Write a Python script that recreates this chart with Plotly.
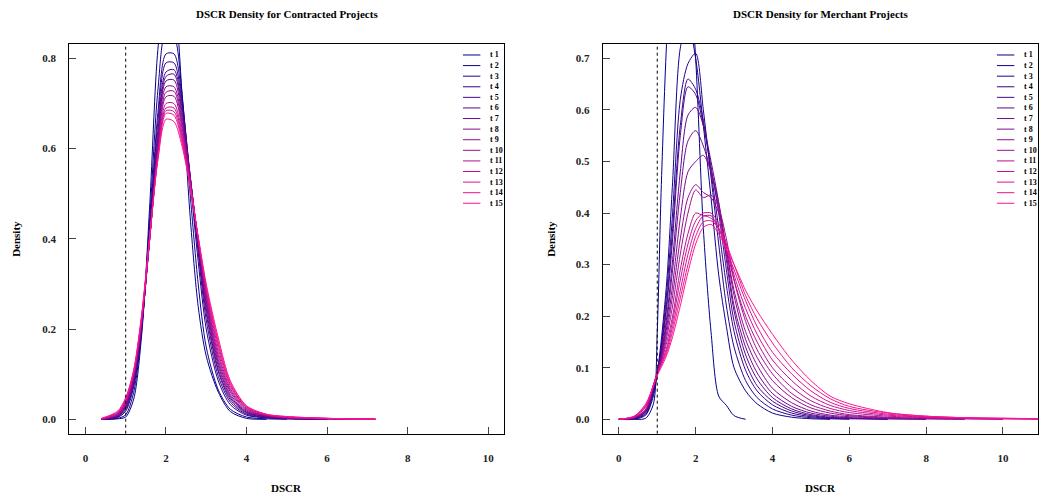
import plotly.graph_objects as go

# ---------------- data ----------------
SERIES = ["t 1", "t 2", "t 3", "t 4", "t 5", "t 6", "t 7", "t 8",
          "t 9", "t 10", "t 11", "t 12", "t 13", "t 14", "t 15"]

# Contracted projects: DSCR grid and density values per period
X_CONTRACTED = [0.4, 0.8, 1.0, 1.2, 1.4, 1.6, 1.8, 2.0, 2.2, 2.4, 2.6, 2.8,
                3.0, 3.3, 3.6, 4.0, 4.5, 5.0, 6.0, 7.2]

c_t1 = [0.0, 0.001, 0.005, 0.045, 0.19, 0.48, 0.82, 0.95, 0.92, 0.72, 0.45, 0.25, 0.14, 0.06, 0.017, 0.002, 0.0, None, None, None]
c_t2 = [0.0, 0.002, 0.01, 0.06, 0.20, 0.45, 0.73, 0.86, 0.85, 0.72, 0.50, 0.30, 0.16, 0.065, 0.022, 0.005, 0.001, 0.0, None, None]
c_t3 = [0.0, 0.004, 0.018, 0.072, 0.205, 0.43, 0.68, 0.81, 0.81, 0.71, 0.53, 0.35, 0.20, 0.085, 0.032, 0.009, 0.003, 0.001, 0.0, None]
c_t4 = [0.0, 0.005, 0.022, 0.078, 0.207, 0.42, 0.66, 0.79, 0.79, 0.70, 0.54, 0.37, 0.22, 0.095, 0.038, 0.011, 0.004, 0.001, 0.0, None]
c_t5 = [0.0, 0.006, 0.025, 0.083, 0.209, 0.415, 0.64, 0.77, 0.775, 0.69, 0.54, 0.38, 0.235, 0.105, 0.043, 0.013, 0.005, 0.002, 0.0, None]
c_t6 = [0.0, 0.007, 0.028, 0.087, 0.211, 0.41, 0.625, 0.76, 0.765, 0.68, 0.54, 0.385, 0.245, 0.11, 0.047, 0.015, 0.006, 0.002, 0.0, None]
c_t7 = [0.0, 0.008, 0.03, 0.09, 0.213, 0.405, 0.615, 0.75, 0.752, 0.67, 0.538, 0.39, 0.255, 0.118, 0.051, 0.016, 0.006, 0.002, 0.001, 0.0]
c_t8 = [0.0, 0.009, 0.032, 0.092, 0.215, 0.402, 0.607, 0.737, 0.737, 0.66, 0.536, 0.393, 0.262, 0.125, 0.055, 0.018, 0.007, 0.003, 0.001, 0.0]
c_t9 = [0.0, 0.01, 0.034, 0.095, 0.218, 0.403, 0.60, 0.725, 0.727, 0.652, 0.532, 0.396, 0.268, 0.132, 0.06, 0.02, 0.008, 0.003, 0.001, 0.0]
c_t10 = [0.001, 0.011, 0.036, 0.097, 0.221, 0.404, 0.595, 0.715, 0.716, 0.645, 0.528, 0.398, 0.274, 0.14, 0.064, 0.022, 0.008, 0.004, 0.001, 0.0]
c_t11 = [0.001, 0.012, 0.039, 0.10, 0.224, 0.405, 0.59, 0.70, 0.70, 0.635, 0.524, 0.40, 0.28, 0.148, 0.068, 0.024, 0.009, 0.004, 0.001, 0.0]
c_t12 = [0.001, 0.013, 0.041, 0.103, 0.227, 0.406, 0.585, 0.69, 0.69, 0.627, 0.52, 0.401, 0.285, 0.157, 0.073, 0.026, 0.01, 0.005, 0.002, 0.0]
c_t13 = [0.001, 0.015, 0.043, 0.105, 0.23, 0.407, 0.582, 0.684, 0.682, 0.62, 0.518, 0.402, 0.29, 0.165, 0.077, 0.027, 0.01, 0.005, 0.002, 0.0]
c_t14 = [0.002, 0.016, 0.046, 0.108, 0.232, 0.408, 0.578, 0.678, 0.674, 0.613, 0.516, 0.404, 0.295, 0.172, 0.081, 0.029, 0.011, 0.006, 0.002, 0.0]
c_t15 = [0.002, 0.018, 0.048, 0.11, 0.235, 0.41, 0.575, 0.665, 0.66, 0.605, 0.515, 0.405, 0.30, 0.18, 0.085, 0.03, 0.011, 0.006, 0.002, 0.0]

# Merchant projects
X_MERCHANT = [0.0, 0.4, 0.7, 0.9, 1.0, 1.1, 1.25, 1.4, 1.6, 1.8, 2.0, 2.2, 2.4, 2.6,
              2.8, 3.0, 3.3, 3.6, 4.0, 4.5, 5.0, 5.5, 6.0, 7.0, 8.0, 9.0, 10.0, 11.0]

m_t1 = [None, 0.0, 0.002, 0.03, 0.17, 0.44, 0.74, 0.90, 0.96, 0.90, 0.70, 0.37, 0.17, 0.045, 0.027, 0.007, 0.0,
        None, None, None, None, None, None, None, None, None, None, None]
m_t2 = [0.0, 0.0, 0.008, 0.045, 0.09, 0.15, 0.27, 0.46, 0.72, 0.77, 0.70, 0.57, 0.43, 0.28, 0.18, 0.10, 0.055,
        0.03, 0.012, 0.004, 0.001, 0.0, None, None, None, None, None, None]
m_t3 = [0.0, 0.001, 0.01, 0.05, 0.09, 0.14, 0.25, 0.40, 0.62, 0.69, 0.71, 0.60, 0.47, 0.34, 0.22, 0.14, 0.075,
        0.042, 0.02, 0.008, 0.003, 0.001, 0.0, None, None, None, None, None]
m_t4 = [0.0, 0.001, 0.012, 0.055, 0.09, 0.135, 0.23, 0.37, 0.57, 0.66, 0.64, 0.58, 0.48, 0.37, 0.26, 0.17, 0.095,
        0.055, 0.028, 0.012, 0.005, 0.002, 0.001, 0.0, None, None, None, None]
m_t5 = [0.0, 0.002, 0.014, 0.058, 0.09, 0.13, 0.22, 0.35, 0.55, 0.645, 0.63, 0.57, 0.49, 0.40, 0.29, 0.19, 0.11,
        0.065, 0.035, 0.016, 0.007, 0.003, 0.002, 0.0, None, None, None, None]
m_t6 = [0.0, 0.002, 0.015, 0.06, 0.09, 0.125, 0.20, 0.31, 0.48, 0.59, 0.605, 0.57, 0.50, 0.42, 0.31, 0.21, 0.125,
        0.078, 0.042, 0.02, 0.009, 0.004, 0.002, 0.001, 0.0, None, None, None]
m_t7 = [0.0, 0.002, 0.016, 0.062, 0.09, 0.12, 0.19, 0.29, 0.44, 0.54, 0.56, 0.53, 0.48, 0.41, 0.32, 0.22, 0.14,
        0.09, 0.05, 0.025, 0.012, 0.006, 0.003, 0.001, 0.0, None, None, None]
m_t8 = [0.0, 0.003, 0.017, 0.063, 0.09, 0.118, 0.18, 0.26, 0.39, 0.48, 0.50, 0.512, 0.48, 0.42, 0.33, 0.24, 0.155,
        0.105, 0.06, 0.032, 0.016, 0.008, 0.005, 0.002, 0.001, 0.0, None, None]
m_t9 = [0.0, 0.003, 0.018, 0.065, 0.09, 0.115, 0.17, 0.24, 0.35, 0.43, 0.455, 0.44, 0.43, 0.40, 0.33, 0.25, 0.17,
        0.12, 0.075, 0.042, 0.022, 0.012, 0.007, 0.003, 0.001, 0.0, None, None]
m_t10 = [0.0, 0.003, 0.019, 0.066, 0.09, 0.112, 0.16, 0.22, 0.32, 0.40, 0.445, 0.43, 0.435, 0.41, 0.35, 0.27, 0.19,
         0.135, 0.088, 0.05, 0.028, 0.016, 0.009, 0.004, 0.002, 0.001, 0.0, None]
m_t11 = [0.0, 0.004, 0.02, 0.067, 0.09, 0.11, 0.15, 0.20, 0.29, 0.36, 0.40, 0.395, 0.395, 0.37, 0.33, 0.27, 0.20,
         0.15, 0.10, 0.062, 0.036, 0.021, 0.013, 0.006, 0.003, 0.001, 0.0, None]
m_t12 = [0.0, 0.005, 0.024, 0.066, 0.09, 0.108, 0.14, 0.19, 0.27, 0.34, 0.385, 0.40, 0.40, 0.38, 0.34, 0.28, 0.215,
         0.165, 0.115, 0.075, 0.045, 0.027, 0.017, 0.008, 0.004, 0.002, 0.001, 0.0]
m_t13 = [0.0, 0.005, 0.026, 0.066, 0.088, 0.106, 0.135, 0.18, 0.25, 0.32, 0.37, 0.394, 0.39, 0.37, 0.33, 0.29, 0.23,
         0.18, 0.13, 0.088, 0.055, 0.033, 0.021, 0.01, 0.005, 0.003, 0.001, 0.0]
m_t14 = [0.0, 0.006, 0.028, 0.065, 0.086, 0.104, 0.13, 0.17, 0.235, 0.30, 0.355, 0.383, 0.385, 0.37, 0.34, 0.30, 0.24,
         0.195, 0.148, 0.10, 0.065, 0.04, 0.025, 0.012, 0.006, 0.003, 0.002, 0.001]
m_t15 = [0.0, 0.006, 0.03, 0.065, 0.085, 0.10, 0.125, 0.16, 0.22, 0.285, 0.34, 0.372, 0.378, 0.36, 0.33, 0.30, 0.25,
         0.21, 0.165, 0.115, 0.075, 0.045, 0.03, 0.013, 0.006, 0.003, 0.002, 0.001]

CONTRACTED = [c_t1, c_t2, c_t3, c_t4, c_t5, c_t6, c_t7, c_t8, c_t9, c_t10, c_t11, c_t12, c_t13, c_t14, c_t15]
MERCHANT = [m_t1, m_t2, m_t3, m_t4, m_t5, m_t6, m_t7, m_t8, m_t9, m_t10, m_t11, m_t12, m_t13, m_t14, m_t15]

DSCR_THRESHOLD = 1.0

# ---------------- style ----------------
FONT = "Liberation Serif"
start_rgb = (0, 0, 139)      # darkblue
end_rgb = (255, 20, 147)     # deeppink
n = len(SERIES)
COLORS = []
for i in range(n):
    f = i / (n - 1)
    r, g, b = (round(s + (e - s) * f) for s, e in zip(start_rgb, end_rgb))
    COLORS.append(f"rgb({r},{g},{b})")

fig = go.Figure()

panels = [
    dict(x=X_CONTRACTED, curves=CONTRACTED, xa="x", ya="y", xd="x domain", yd="y domain",
         title="DSCR Density for Contracted Projects"),
    dict(x=X_MERCHANT, curves=MERCHANT, xa="x2", ya="y2", xd="x2 domain", yd="y2 domain",
         title="DSCR Density for Merchant Projects"),
]

shapes = []
annotations = []
for p in panels:
    for name, ys, col in zip(SERIES, p["curves"], COLORS):
        fig.add_trace(go.Scatter(
            x=p["x"], y=ys, mode="lines", name=name,
            line=dict(color=col, width=1, shape="spline", smoothing=0.8),
            xaxis=p["xa"], yaxis=p["ya"], showlegend=False, hoverinfo="skip"))
    # threshold line
    shapes.append(dict(type="line", xref=p["xa"], x0=DSCR_THRESHOLD, x1=DSCR_THRESHOLD,
                       yref=p["yd"], y0=0, y1=1,
                       line=dict(color="black", width=1, dash="3px,3px")))
    # manual legend (R style, compact)
    for i, (name, col) in enumerate(zip(SERIES, COLORS)):
        yy = 0.9718 - i * 0.02718
        shapes.append(dict(type="line", xref=p["xd"], yref=p["yd"],
                           x0=0.905, x1=0.945, y0=yy, y1=yy,
                           line=dict(color=col, width=1)))
        annotations.append(dict(text=name, xref=p["xd"], yref=p["yd"], x=0.962, y=yy,
                                xanchor="left", yanchor="middle", showarrow=False,
                                font=dict(family=FONT, size=8, color="black", weight="bold")))
    # titles
    annotations.append(dict(text=p["title"], xref=p["xd"], x=0.5, yref="paper", y=1 - 14 / 498,
                            xanchor="center", yanchor="middle", showarrow=False,
                            font=dict(family=FONT, size=11, color="black", weight="bold")))
    annotations.append(dict(text="DSCR", xref=p["xd"], x=0.5, yref="paper", y=1 - 488 / 498,
                            xanchor="center", yanchor="middle", showarrow=False,
                            font=dict(family=FONT, size=11, color="black", weight="bold")))

annotations.append(dict(text="Density", xref="paper", x=16 / 1042, yref="y domain", y=0.5,
                        textangle=-90, xanchor="center", yanchor="middle", showarrow=False,
                        font=dict(family=FONT, size=11, color="black", weight="bold")))
annotations.append(dict(text="Density", xref="paper", x=551 / 1042, yref="y2 domain", y=0.5,
                        textangle=-90, xanchor="center", yanchor="middle", showarrow=False,
                        font=dict(family=FONT, size=11, color="black", weight="bold")))

tickfont = dict(family=FONT, size=11, color="#222", weight="bold")
axis_common = dict(showline=True, mirror=True, linecolor="black", linewidth=1,
                   ticks="inside", ticklen=7, tickcolor="#444", tickwidth=1,
                   showgrid=False, zeroline=False, tickfont=tickfont)

y_dom = [1 - 433.7 / 498, 1 - 44 / 498]
fig.update_layout(
    width=1042, height=498,
    margin=dict(l=0, r=0, t=0, b=0),
    paper_bgcolor="white", plot_bgcolor="white",
    showlegend=False,
    xaxis=dict(domain=[69.3 / 1042, 504.3 / 1042], range=[-0.4, 10.4],
               tickvals=[0, 2, 4, 6, 8, 10], ticklabelstandoff=14, **axis_common),
    yaxis=dict(domain=y_dom, range=[-0.032, 0.832], tickvals=[0, 0.2, 0.4, 0.6, 0.8],
               tickformat=".1f", ticklabelstandoff=10, **axis_common),
    xaxis2=dict(domain=[602.7 / 1042, 1038.3 / 1042], range=[-0.42, 10.92],
                tickvals=[0, 2, 4, 6, 8, 10], ticklabelstandoff=14, anchor="y2", **axis_common),
    yaxis2=dict(domain=y_dom, range=[-0.028, 0.728],
                tickvals=[0, 0.1, 0.2, 0.3, 0.4, 0.5, 0.6, 0.7],
                tickformat=".1f", ticklabelstandoff=10, anchor="x2", **axis_common),
    shapes=shapes,
    annotations=annotations,
)

fig.write_html("out.html", config={"displayModeBar": False},
               post_script="document.body.style.margin='0';")
